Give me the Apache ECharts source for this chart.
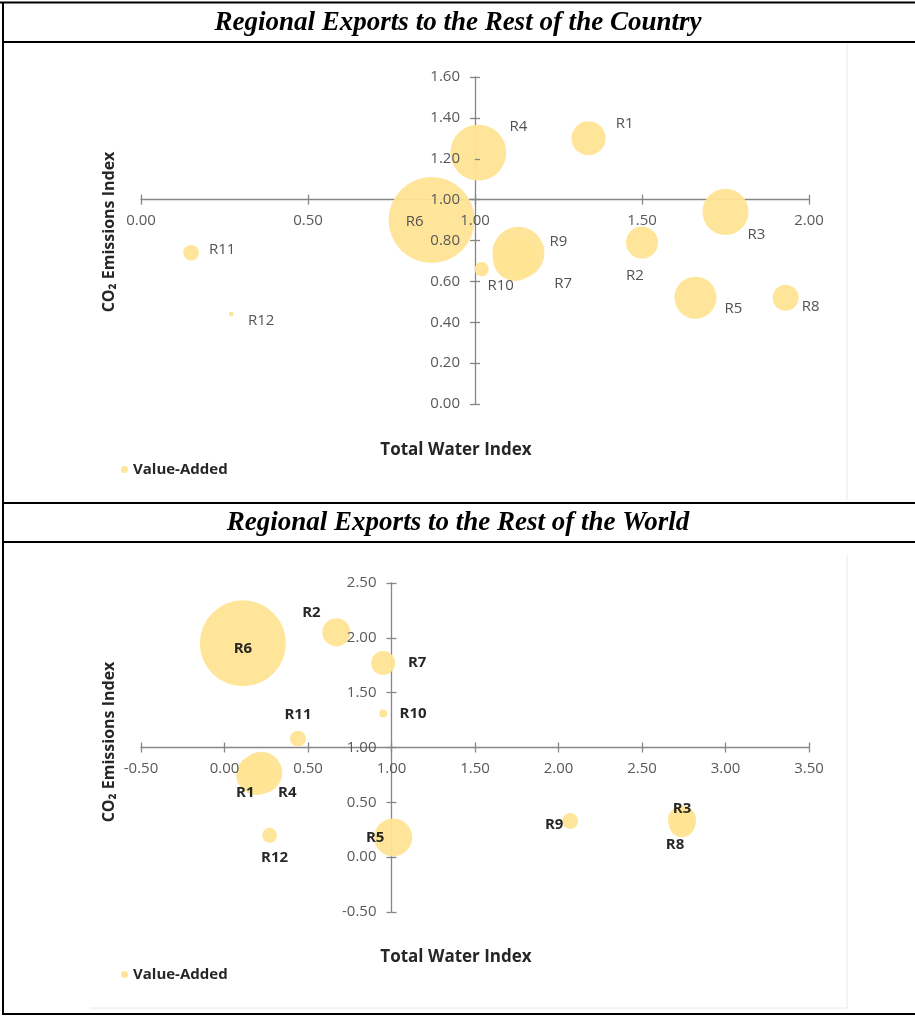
<!DOCTYPE html>
<html>
<head>
<meta charset="utf-8">
<script src="https://cdn.jsdelivr.net/npm/echarts@6/dist/echarts.min.js"></script>
<style>
html,body{margin:0;padding:0;background:#fff;}
#chart{width:915px;height:1016px;}
</style>
</head>
<body>
<div id="chart"></div>
<script>
// ---------- DATA ----------
const regions = ['R1','R2','R3','R4','R5','R6','R7','R8','R9','R10','R11','R12'];

// Chart 1: Regional Exports to the Rest of the Country
const water1 = [1.34, 1.50, 1.75, 1.01, 1.66, 0.87, 1.12, 1.93, 1.13, 1.02, 0.15, 0.27];
const co2_1  = [1.30, 0.79, 0.94, 1.23, 0.52, 0.90, 0.71, 0.52, 0.74, 0.66, 0.74, 0.44];
const va1    = [5.2, 4.6, 9.5, 14.0, 7.9, 33.1, 8.7, 3.0, 12.1, 0.9, 1.1, 0.1];

// Chart 2: Regional Exports to the Rest of the World
const water2 = [0.19, 0.67, 2.74, 0.22, 1.01, 0.11, 0.95, 2.74, 2.07, 0.95, 0.44, 0.27];
const co2_2  = [0.75, 2.05, 0.34, 0.77, 0.18, 1.95, 1.77, 0.30, 0.33, 1.31, 1.08, 0.20];
const va2    = [10.1, 5.0, 5.0, 11.1, 9.1, 46.7, 3.6, 4.3, 1.6, 0.4, 1.6, 1.4];

const titles = ['Regional Exports to the Rest of the Country', 'Regional Exports to the Rest of the World'];
const xTitle = 'Total Water Index';
const yTitle = 'CO\u2082 Emissions Index';
const seriesName = 'Value-Added';

// ---------- LAYOUT / STYLE ----------
const labelOffsets1 = [[36,-15],[-7,33],[31,23],[40,-26],[38,11],[-17,2],[48,25],[25,9],[40,-11],[19,17],[31,-3],[30,7]];
const labelOffsets2 = [[-11,18],[-25,-20],[0,-11],[26,20],[-18,0],[0,5],[34,0],[-7,20],[-16,4],[30,0],[0,-24],[5,23]];

const FONT = '"Open Sans", "DejaVu Sans", sans-serif';
const BUBBLE = '#FFE494';
const MAXR = 43;

function buildData(xs, ys, vs, offsets, labelStyle) {
  return regions.map((r, i) => ({
    name: r,
    value: [xs[i], ys[i], vs[i]],
    label: Object.assign({ offset: offsets[i] }, labelStyle)
  }));
}

function sizeFn(vs) {
  const vmax = Math.max.apply(null, vs);
  return function (val) { return 2 * MAXR * Math.sqrt(val[2] / vmax); };
}

const grids = [
  { left: 141, top: 77, width: 668, height: 327 },
  { left: 141, top: 583, width: 668, height: 329 }
];

const axisCfg = [
  { xmin: 0, xmax: 2, xint: 0.5, ymin: 0, ymax: 1.6, yint: 0.2 },
  { xmin: -0.5, xmax: 3.5, xint: 0.5, ymin: -0.5, ymax: 2.5, yint: 0.5 }
];

const xAxes = [], yAxes = [];
axisCfg.forEach((c, g) => {
  const gr = grids[g];
  const xOff = -gr.height * (1 - c.ymin) / (c.ymax - c.ymin);
  const yOff = -gr.width * (1 - c.xmin) / (c.xmax - c.xmin);
  const lineStyle = { color: '#868686', width: 1.3 };
  const lbl = { color: '#595959', fontSize: 15, fontFamily: FONT, formatter: v => v.toFixed(2) };
  // line + outer ticks (below bubbles)
  xAxes.push({
    type: 'value', gridIndex: g, min: c.xmin, max: c.xmax, interval: c.xint,
    position: 'bottom', offset: xOff, z: 0,
    axisLine: { show: true, onZero: false, lineStyle },
    axisTick: { show: true, length: 5, lineStyle },
    axisLabel: { show: false },
    splitLine: { show: false }
  });
  // inner ticks + labels (above bubbles)
  xAxes.push({
    type: 'value', gridIndex: g, min: c.xmin, max: c.xmax, interval: c.xint,
    position: 'bottom', offset: xOff, z: 5,
    axisLine: { show: false, onZero: false },
    axisTick: { show: true, inside: true, length: 5, lineStyle },
    axisLabel: Object.assign({ margin: 14 }, lbl),
    splitLine: { show: false }
  });
  yAxes.push({
    type: 'value', gridIndex: g, min: c.ymin, max: c.ymax, interval: c.yint,
    position: 'left', offset: yOff, z: 0,
    axisLine: { show: true, onZero: false, lineStyle },
    axisTick: { show: true, length: 5, lineStyle },
    axisLabel: { show: false },
    splitLine: { show: false }
  });
  yAxes.push({
    type: 'value', gridIndex: g, min: c.ymin, max: c.ymax, interval: c.yint,
    position: 'left', offset: yOff, z: 5,
    axisLine: { show: false, onZero: false },
    axisTick: { show: true, inside: true, length: 5, lineStyle },
    axisLabel: Object.assign({ margin: 15 }, lbl),
    splitLine: { show: false }
  });
});

const lbl1 = { show: true, position: 'inside', formatter: '{b}', color: '#4a4a4a', fontSize: 15, fontFamily: FONT };
const lbl2 = { show: true, position: 'inside', formatter: '{b}', color: '#1a1a1a', fontSize: 15, fontWeight: 'bold', fontFamily: FONT };

const BLACK = '#000';
const TFONT = 'italic bold 27px "Liberation Serif", "Times New Roman", serif';
const graphic = [
  // table frame
  { type: 'line', shape: { x1: 0, y1: 2.5, x2: 915, y2: 2.5 }, style: { stroke: BLACK, lineWidth: 2 } },
  { type: 'line', shape: { x1: 3, y1: 2, x2: 3, y2: 1015 }, style: { stroke: BLACK, lineWidth: 2 } },
  { type: 'line', shape: { x1: 2, y1: 42, x2: 915, y2: 42 }, style: { stroke: BLACK, lineWidth: 2 } },
  { type: 'line', shape: { x1: 2, y1: 503, x2: 915, y2: 503 }, style: { stroke: BLACK, lineWidth: 2 } },
  { type: 'line', shape: { x1: 2, y1: 542, x2: 915, y2: 542 }, style: { stroke: BLACK, lineWidth: 2 } },
  { type: 'line', shape: { x1: 2, y1: 1014, x2: 915, y2: 1014 }, style: { stroke: BLACK, lineWidth: 2 } },
  // chart picture edges
  { type: 'line', shape: { x1: 847, y1: 43, x2: 847, y2: 500 }, style: { stroke: '#e8e8e8', lineWidth: 1 } },
  { type: 'line', shape: { x1: 847, y1: 555, x2: 847, y2: 1008 }, style: { stroke: '#e8e8e8', lineWidth: 1 } },
  { type: 'line', shape: { x1: 90, y1: 1008, x2: 847, y2: 1008 }, style: { stroke: '#e8e8e8', lineWidth: 1 } },
  // row titles
  { type: 'text', x: 458, y: 23, style: { text: titles[0], font: TFONT, fill: '#000', textAlign: 'center', textVerticalAlign: 'middle' } },
  { type: 'text', x: 458, y: 523, style: { text: titles[1], font: TFONT, fill: '#000', textAlign: 'center', textVerticalAlign: 'middle' } },
  // axis titles
  { type: 'text', x: 456, y: 450, style: { text: xTitle, font: 'bold 17px ' + FONT, fill: '#262626', textAlign: 'center', textVerticalAlign: 'middle' } },
  { type: 'text', x: 456, y: 957, style: { text: xTitle, font: 'bold 17px ' + FONT, fill: '#262626', textAlign: 'center', textVerticalAlign: 'middle' } },
  { type: 'text', x: 109, y: 232, rotation: Math.PI / 2, style: { text: yTitle, font: 'bold 16px ' + FONT, fill: '#262626', textAlign: 'center', textVerticalAlign: 'middle' } },
  { type: 'text', x: 109, y: 742, rotation: Math.PI / 2, style: { text: yTitle, font: 'bold 16px ' + FONT, fill: '#262626', textAlign: 'center', textVerticalAlign: 'middle' } }
];

const legendBase = {
  data: [seriesName], icon: 'circle', itemWidth: 7, itemHeight: 7, itemGap: 5,
  textStyle: { fontFamily: FONT, fontSize: 15, fontWeight: 'bold', color: '#262626' },
  selectedMode: false, padding: 0
};

const option = {
  animation: false,
  backgroundColor: '#fff',
  grid: grids,
  xAxis: xAxes,
  yAxis: yAxes,
  legend: [
    Object.assign({ left: 121, top: 462 }, legendBase),
    Object.assign({ left: 121, top: 967 }, legendBase)
  ],
  graphic: graphic,
  series: [
    {
      name: seriesName, type: 'scatter', xAxisIndex: 0, yAxisIndex: 0, z: 2,
      symbolSize: sizeFn(va1),
      itemStyle: { color: BUBBLE, opacity: 0.95 },
      data: buildData(water1, co2_1, va1, labelOffsets1, lbl1)
    },
    {
      name: seriesName, type: 'scatter', xAxisIndex: 2, yAxisIndex: 2, z: 2,
      symbolSize: sizeFn(va2),
      itemStyle: { color: BUBBLE, opacity: 0.95 },
      data: buildData(water2, co2_2, va2, labelOffsets2, lbl2)
    }
  ]
};

const chart = echarts.init(document.getElementById('chart'), null, { renderer: 'canvas' });
chart.setOption(option);
</script>
</body>
</html>
